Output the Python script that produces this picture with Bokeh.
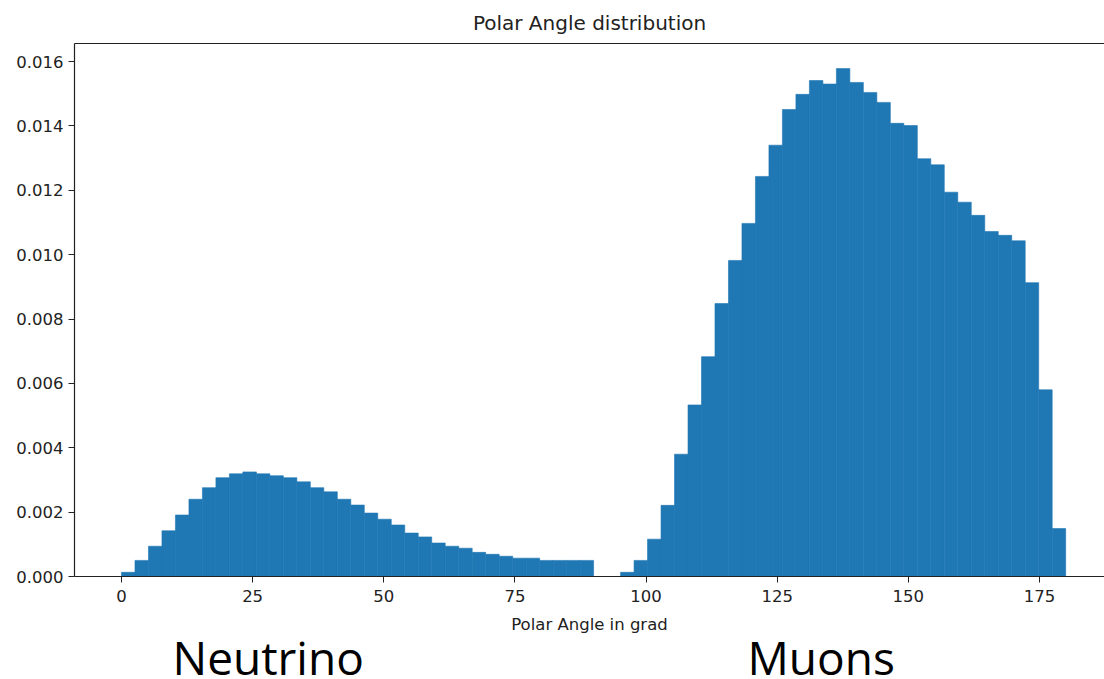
import numpy as np
from bokeh.plotting import figure
from bokeh.layouts import column
from bokeh.models import (ColumnDataSource, FixedTicker, NumeralTickFormatter,
                          LinearAxis, Range1d, Label)
from bokeh.embed import file_html
from bokeh.resources import INLINE

# ---- data (density per bin) ----
bin_lo, bin_hi, n_bins = 0.0, 180.0, 70

neutrino = [0.00013, 0.00050, 0.00094, 0.00142, 0.00191, 0.00240, 0.00276,
            0.00307, 0.00319, 0.00325, 0.00319, 0.00313, 0.00307, 0.00294,
            0.00276, 0.00263, 0.00240, 0.00222, 0.00197, 0.00178, 0.00160,
            0.00135, 0.00123, 0.00104, 0.00094, 0.00088, 0.00075, 0.00069,
            0.00063, 0.00057, 0.00057, 0.00050, 0.00050, 0.00050, 0.00050]

muons = [0.0, 0.0, 0.00013, 0.00050, 0.00116, 0.00221, 0.00380, 0.00533,
         0.00683, 0.00848, 0.00982, 0.01097, 0.01243, 0.01340, 0.01451,
         0.01498, 0.01541, 0.01530, 0.01578, 0.01535, 0.01504, 0.01473,
         0.01408, 0.01401, 0.01298, 0.01279, 0.01194, 0.01163, 0.01122,
         0.01072, 0.01060, 0.01043, 0.00913, 0.00580, 0.00149]

x_ticks = [0, 25, 50, 75, 100, 125, 150, 175]
y_ticks = [0.000, 0.002, 0.004, 0.006, 0.008, 0.010, 0.012, 0.014, 0.016]

title_text = "Polar Angle distribution"
x_label = "Polar Angle in grad"
group_labels = ["Neutrino", "Muons"]

# ---- build histogram quads ----
edges = np.linspace(bin_lo, bin_hi, n_bins + 1)
counts = np.array(neutrino + muons)
keep = counts > 0
src = ColumnDataSource(dict(left=edges[:-1][keep], right=edges[1:][keep],
                            top=counts[keep], bottom=np.zeros(keep.sum())))

BLUE = "#1f77b4"
INK = "#222222"
p = figure(width=1104, height=636, output_backend="svg", toolbar_location=None,
           x_range=Range1d(-8.96, 187.4), y_range=Range1d(0, 0.01656),
           min_border_left=74, min_border_right=0, min_border_top=42,
           min_border_bottom=60, background_fill_color="white",
           border_fill_color="white")

p.quad(left="left", right="right", top="top", bottom="bottom", source=src,
       fill_color=BLUE, line_color=BLUE, line_width=0.6)

p.xgrid.visible = False
p.ygrid.visible = False
p.outline_line_color = None

p.title.text = title_text
p.title.align = "center"
p.title.text_font = "DejaVu Sans"
p.title.text_font_size = "20px"
p.title.text_font_style = "normal"
p.title.text_color = INK
p.title.text_line_height = 0.8
p.title.standoff = 17

xax = p.xaxis[0]
yax = p.yaxis[0]
for ax in (xax, yax):
    ax.axis_line_color = INK
    ax.axis_line_width = 1.2
    ax.major_tick_line_color = INK
    ax.major_tick_out = 6
    ax.major_tick_in = 0
    ax.minor_tick_line_color = None
    ax.major_label_text_font = "DejaVu Sans"
    ax.major_label_text_font_size = "16.5px"
    ax.major_label_text_color = INK

xax.major_label_standoff = 7
yax.major_label_standoff = 5
xax.ticker = FixedTicker(ticks=x_ticks)
yax.ticker = FixedTicker(ticks=y_ticks)
yax.formatter = NumeralTickFormatter(format="0.000")
xax.axis_label = x_label
xax.axis_label_text_font = "DejaVu Sans"
xax.axis_label_text_font_size = "16.5px"
xax.axis_label_text_font_style = "normal"
xax.axis_label_text_color = INK
xax.axis_label_standoff = 10

# top spine
top_axis = LinearAxis(ticker=FixedTicker(ticks=[]), major_tick_line_color=None,
                      minor_tick_line_color=None, major_tick_out=0,
                      major_label_standoff=0, major_label_text_font_size="0px",
                      axis_line_color=INK, axis_line_width=1.2)
p.add_layout(top_axis, "above")

# strip under the chart carrying the two group names
p2 = figure(width=1104, height=43, output_backend="svg", toolbar_location=None,
            x_range=Range1d(0, 1), y_range=Range1d(0, 1), min_border=0,
            min_border_left=0, min_border_right=0, min_border_top=0,
            min_border_bottom=0, background_fill_color="white",
            border_fill_color="white")
p2.outline_line_color = None
p2.xgrid.visible = False
p2.ygrid.visible = False
p2.xaxis.visible = False
p2.yaxis.visible = False
for txt, sx in zip(group_labels, [98, 673]):
    p2.add_layout(Label(x=sx, y=23, x_units="screen", y_units="screen", text=txt,
                        text_font="Open Sans", text_font_size="46px",
                        text_color="black", text_align="left",
                        text_baseline="alphabetic"))

layout = column(p, p2, spacing=0)
open("out.html", "w").write(file_html(layout, INLINE))
